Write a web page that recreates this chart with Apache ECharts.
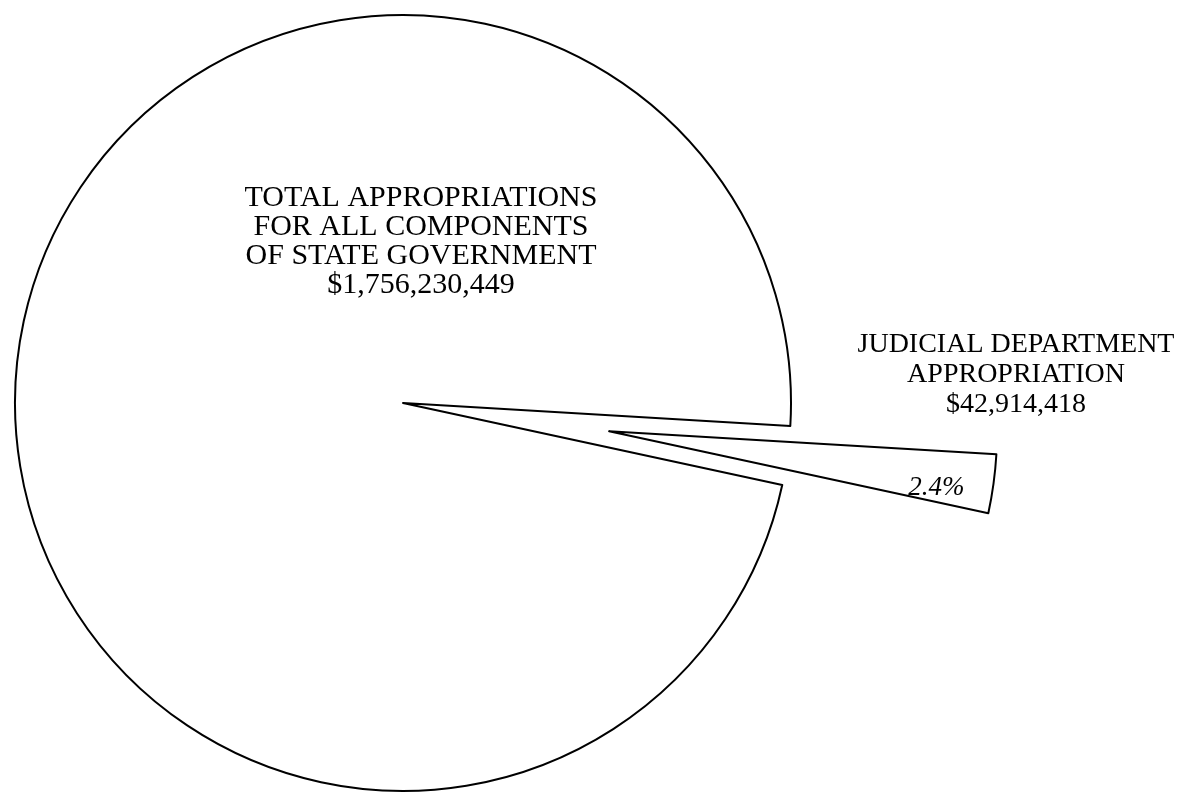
<!DOCTYPE html>
<html>
<head>
<meta charset="utf-8">
<script src="https://cdn.jsdelivr.net/npm/echarts@6/dist/echarts.min.js"></script>
<style>
	html, body { margin: 0; padding: 0; background: #fff; }
	#chart { width: 1190px; height: 793px; }
</style>
</head>
<body>
<div id="chart"></div>
<script>
// values
var totalAppropriations = 1756230449;
var judicialAppropriation = 42914418;
var sliceNames = ['Judicial Department', 'All Other Components'];
var totalTitle = ['TOTAL APPROPRIATIONS', 'FOR ALL COMPONENTS', 'OF STATE GOVERNMENT'];
var judicialTitle = ['JUDICIAL DEPARTMENT', 'APPROPRIATION'];

var sliceValues = [judicialAppropriation, totalAppropriations - judicialAppropriation];

function dollars(v) {
	return '$' + v.toLocaleString('en-US');
}

var serif = '"Liberation Serif", "Times New Roman", serif';

var chart = echarts.init(document.getElementById('chart'));

var option = {
	backgroundColor: '#fff',
	animation: false,
	graphic: [
		{
			type: 'text',
			z: 100,
			x: 421,
			y: 184,
			style: {
				text: totalTitle.concat([dollars(totalAppropriations)]).join('\n'),
				font: '30px ' + serif,
				lineHeight: 29,
				fill: '#000',
				textAlign: 'center'
			}
		},
		{
			type: 'text',
			z: 100,
			x: 1016,
			y: 330,
			style: {
				text: judicialTitle.concat([dollars(judicialAppropriation)]).join('\n'),
				font: '28px ' + serif,
				lineHeight: 30,
				fill: '#000',
				textAlign: 'center'
			}
		}
	],
	series: [
		{
			type: 'pie',
			center: [403, 403],
			radius: 388,
			startAngle: -3.4,
			clockwise: true,
			selectedMode: 'single',
			selectedOffset: 208,
			avoidLabelOverlap: false,
			itemStyle: {
				color: '#fff',
				borderColor: '#000',
				borderWidth: 2
			},
			emphasis: { disabled: true },
			labelLine: { show: false },
			label: { show: false },
			labelLayout: function (p) {
				if (p.dataIndex === 0) return { dx: 132, dy: 30 };
			},
			data: [
				{
					name: sliceNames[0],
					value: sliceValues[0],
					selected: true,
					label: {
						show: true,
						position: 'inside',
						fontFamily: serif,
						fontStyle: 'italic',
						fontSize: 27,
						color: '#000',
						formatter: function (p) {
							return (p.value / totalAppropriations * 100).toFixed(1) + '%';
						}
					}
				},
				{ name: sliceNames[1], value: sliceValues[1] }
			]
		}
	]
};

chart.setOption(option);
</script>
</body>
</html>
